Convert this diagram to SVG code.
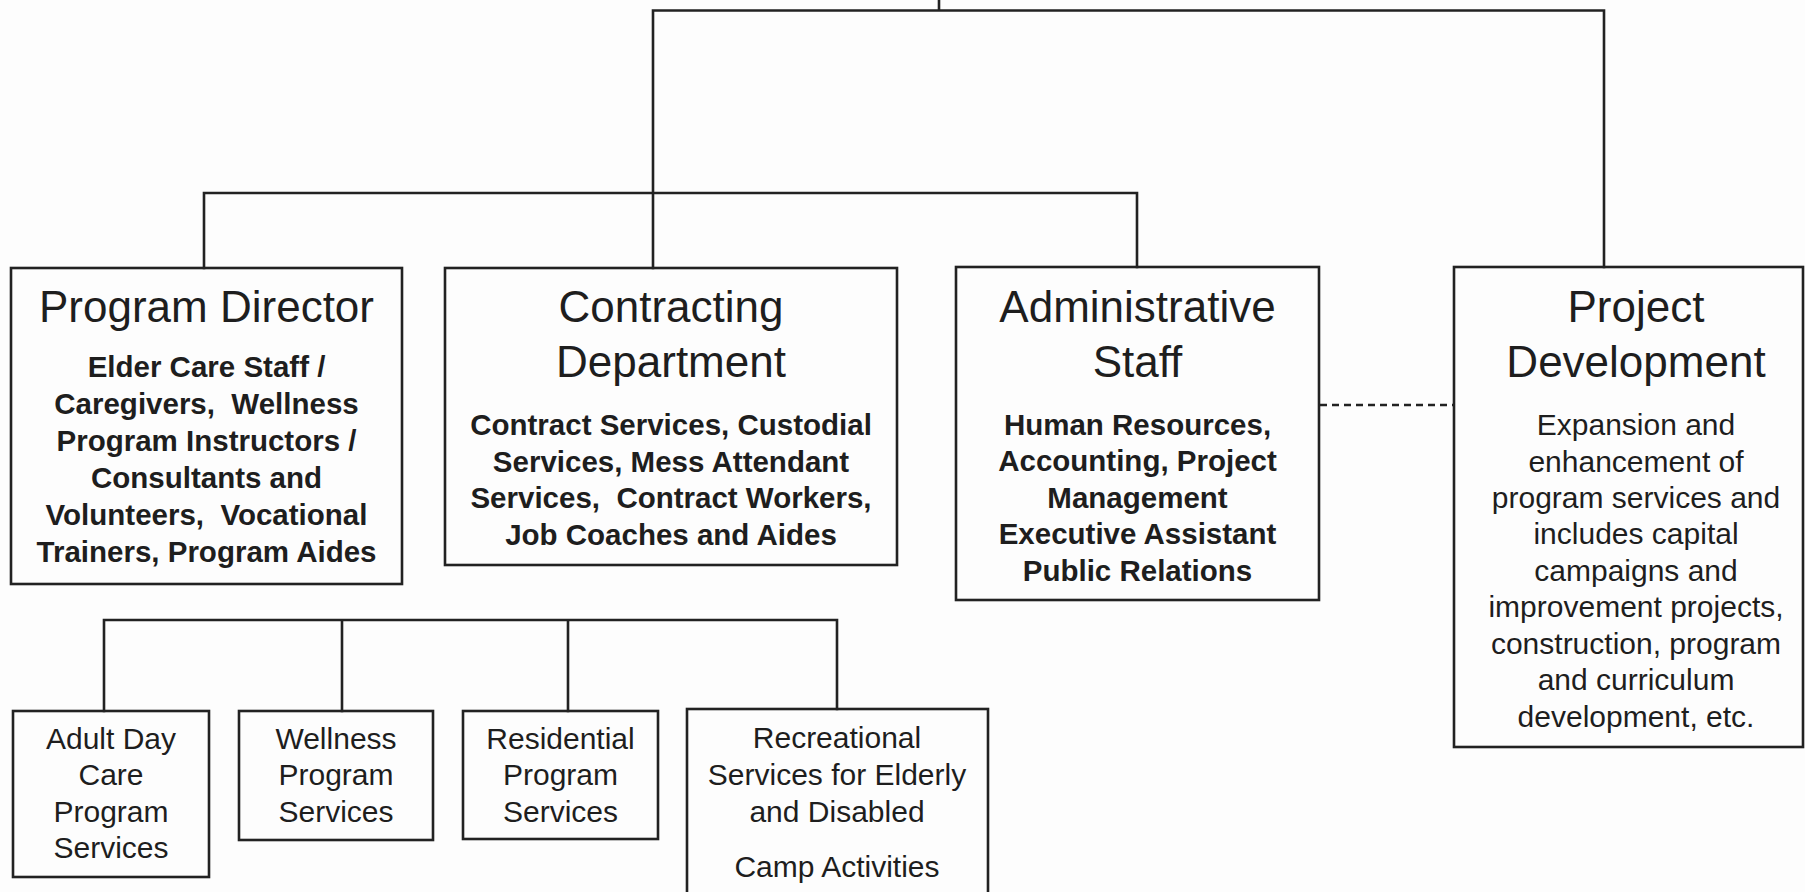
<svg xmlns="http://www.w3.org/2000/svg" width="1805" height="892" viewBox="0 0 1805 892">
<style>
.box{fill:none;stroke:#222;stroke-width:2.6}
.ln{fill:none;stroke:#222;stroke-width:2.6;stroke-linecap:square}
.dash{fill:none;stroke:#222;stroke-width:2.4;stroke-dasharray:7 5}
text{font-family:"Liberation Sans",Arial,sans-serif;fill:#1e1e1e;text-anchor:middle;white-space:pre}
.t{font-size:44px}
.b{font-size:29.5px;font-weight:bold}
.r{font-size:30px}
</style>
<rect width="1805" height="892" fill="#fdfdfd"/>
<g id="connectors">
<path class="ln" d="M939 0V10.5M653 10.5H1604M653 10.5V268M1604 10.5V267M204 193H1137M204 193V268M1137 193V267"/>
<path class="ln" d="M104 620H837M104 620V711M342 620V711M568 620V711M837 620V709"/>
<path class="dash" d="M1320 405H1454"/>
</g>
<g id="program-director">
<rect class="box" x="11" y="268" width="391" height="316"/>
<text class="t" x="206.5" y="322">Program Director</text>
<text class="b" x="206.5" y="377">Elder Care Staff /</text>
<text class="b" x="206.5" y="414" xml:space="preserve">Caregivers,  Wellness</text>
<text class="b" x="206.5" y="451">Program Instructors /</text>
<text class="b" x="206.5" y="488">Consultants and</text>
<text class="b" x="206.5" y="525" xml:space="preserve">Volunteers,  Vocational</text>
<text class="b" x="206.5" y="562">Trainers, Program Aides</text>
</g>
<g id="contracting-department">
<rect class="box" x="445" y="268" width="452" height="297"/>
<text class="t" x="671" y="322">Contracting</text>
<text class="t" x="671" y="377">Department</text>
<text class="b" x="671" y="435">Contract Services, Custodial</text>
<text class="b" x="671" y="472">Services, Mess Attendant</text>
<text class="b" x="671" y="508" xml:space="preserve">Services,  Contract Workers,</text>
<text class="b" x="671" y="545">Job Coaches and Aides</text>
</g>
<g id="administrative-staff">
<rect class="box" x="956" y="267" width="363" height="333"/>
<text class="t" x="1137.5" y="322">Administrative</text>
<text class="t" x="1137.5" y="377">Staff</text>
<text class="b" x="1137.5" y="435">Human Resources,</text>
<text class="b" x="1137.5" y="471">Accounting, Project</text>
<text class="b" x="1137.5" y="508">Management</text>
<text class="b" x="1137.5" y="544">Executive Assistant</text>
<text class="b" x="1137.5" y="581">Public Relations</text>
</g>
<g id="project-development">
<rect class="box" x="1454" y="267" width="349" height="480"/>
<text class="t" x="1636" y="322">Project</text>
<text class="t" x="1636" y="377">Development</text>
<text class="r" x="1636" y="435">Expansion and</text>
<text class="r" x="1636" y="472">enhancement of</text>
<text class="r" x="1636" y="508">program services and</text>
<text class="r" x="1636" y="544">includes capital</text>
<text class="r" x="1636" y="581">campaigns and</text>
<text class="r" x="1636" y="617">improvement projects,</text>
<text class="r" x="1636" y="654">construction, program</text>
<text class="r" x="1636" y="690">and curriculum</text>
<text class="r" x="1636" y="727">development, etc.</text>
</g>
<g id="adult-day-care">
<rect class="box" x="13" y="711" width="196" height="166"/>
<text class="r" x="111" y="749">Adult Day</text>
<text class="r" x="111" y="785">Care</text>
<text class="r" x="111" y="822">Program</text>
<text class="r" x="111" y="858">Services</text>
</g>
<g id="wellness-program">
<rect class="box" x="239" y="711" width="194" height="129"/>
<text class="r" x="336" y="749">Wellness</text>
<text class="r" x="336" y="785">Program</text>
<text class="r" x="336" y="822">Services</text>
</g>
<g id="residential-program">
<rect class="box" x="463" y="711" width="195" height="128"/>
<text class="r" x="560.5" y="749">Residential</text>
<text class="r" x="560.5" y="785">Program</text>
<text class="r" x="560.5" y="822">Services</text>
</g>
<g id="recreational-services">
<rect class="box" x="687" y="709" width="301" height="200"/>
<text class="r" x="837" y="748">Recreational</text>
<text class="r" x="837" y="785">Services for Elderly</text>
<text class="r" x="837" y="822">and Disabled</text>
<text class="r" x="837" y="877">Camp Activities</text>
</g>
</svg>
